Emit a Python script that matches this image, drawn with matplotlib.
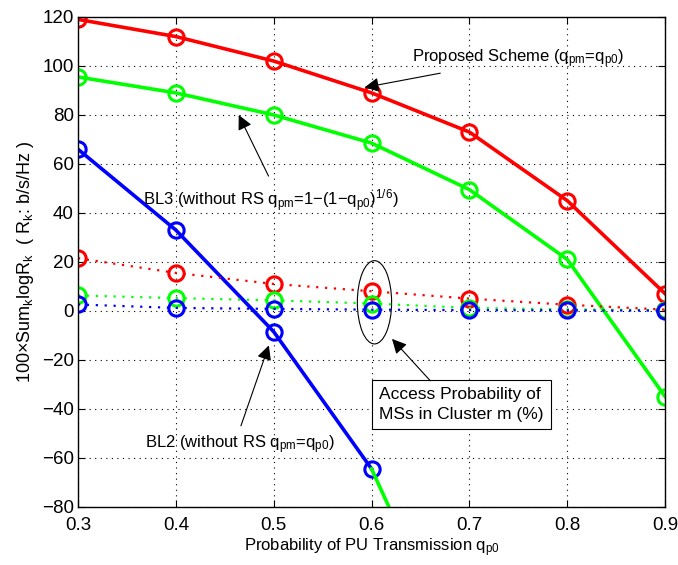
import matplotlib
matplotlib.use("Agg")
import matplotlib.pyplot as plt
from matplotlib.patches import Ellipse

plt.rcParams['font.family'] = ['Liberation Sans', 'DejaVu Sans']
plt.rcParams['mathtext.default'] = 'regular'

# Datos
q_p0 = [0.3, 0.4, 0.5, 0.6, 0.7, 0.8, 0.9]
propuesto = [119, 112, 102, 89, 73, 45, 7]
bl3 = [95.5, 89, 80, 68.5, 49.5, 21, -35]
bl2_x = [0.3, 0.4, 0.5, 0.6]
bl2 = [66, 33, -8.5, -64.5]
bl2_resto_x = [0.6, 0.7]
bl2_resto = [-64.5, -152]
acceso_prop = [21.5, 15.5, 11, 8, 5, 2.5, 0.5]
acceso_bl3 = [6.3, 5.2, 4.3, 3, 1.2, 0.6, 0.3]
acceso_bl2 = [2.6, 1.2, 0.8, 0.5, 0.3, 0.2, 0.1]

fig = plt.figure(figsize=(6.78, 5.65), dpi=100)
ax = fig.add_axes([0.115, 0.103, 0.866, 0.867])

estilo = dict(marker='o', markersize=11, markerfacecolor='none', markeredgewidth=2.2)
ax.plot(q_p0, propuesto, color='red', lw=2.6, **estilo)
ax.plot(q_p0, bl3, color='#00ff00', lw=2.6, **estilo)
ax.plot(bl2_x, bl2, color='blue', lw=2.6, **estilo)
ax.plot(bl2_resto_x, bl2_resto, color='#00ff00', lw=2.6)
ax.plot(q_p0, acceso_prop, color='red', lw=1.6, ls=(0, (1, 3)), **estilo)
ax.plot(q_p0, acceso_bl3, color='#00ff00', lw=1.6, ls=(0, (1, 3)), **estilo)
ax.plot(q_p0, acceso_bl2, color='blue', lw=1.6, ls=(0, (1, 3)), **estilo)

ax.set_xlim(0.3, 0.9)
ax.set_ylim(-80, 120)
ax.set_xticks(q_p0)
ax.set_xticklabels(['0.3', '0.4', '0.5', '0.6', '0.7', '0.8', '0.9'])
ax.set_yticks(range(-80, 121, 20))
ax.tick_params(direction='in', top=True, right=True, labelsize=13.5, length=5)
ax.tick_params(axis='x', pad=7)
ax.tick_params(axis='y', pad=3)
ax.grid(True, color='black', ls=(0, (1, 4)), lw=0.8)
for s in ax.spines.values():
    s.set_linewidth(1.0)

ax.set_xlabel('Probability of PU Transmission q$_{p0}$', fontsize=12, labelpad=2)
ax.set_ylabel('100×Sum$_k$logR$_k$  ( R$_k$: b/s/Hz )', fontsize=13, labelpad=4)

flecha = dict(arrowstyle='-|>', color='black', lw=0.8, mutation_scale=22)
ax.annotate('Proposed Scheme (q$_{pm}$=q$_{p0}$)', xy=(0.590, 91), xytext=(0.641, 103),
            fontsize=12, arrowprops=flecha, va='center', ha='left')
ax.text(0.366, 45, 'BL3 (without RS q$_{pm}$=1−(1−q$_{p0}$)$^{1/6}$)',
        fontsize=12, va='center', ha='left')
ax.annotate('', xy=(0.463, 81), xytext=(0.496, 54), arrowprops=flecha)
ax.text(0.368, -54.5, 'BL2 (without RS q$_{pm}$=q$_{p0}$)',
        fontsize=12, va='center', ha='left')
ax.annotate('', xy=(0.496, -13), xytext=(0.4656, -48), arrowprops=flecha)

ax.add_patch(Ellipse((0.603, 3.5), 0.035, 34, fill=False, edgecolor='black', lw=0.8))
ax.text(0.608, -31, 'Access Probability of\nMSs in Cluster m (%)', fontsize=12.5,
        va='top', ha='left', linespacing=1.4,
        bbox=dict(boxstyle='square,pad=0.4', facecolor='white', edgecolor='black', lw=0.8))
ax.annotate('', xy=(0.619, -10.6), xytext=(0.662, -29.4), arrowprops=flecha)

fig.savefig('out.png', dpi=100)
